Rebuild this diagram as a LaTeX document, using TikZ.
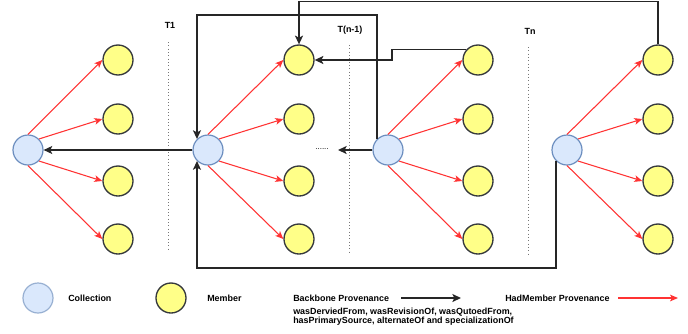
\documentclass[tikz,border=0pt]{standalone}
\usepackage{fontspec}
\setmainfont{Liberation Sans}
\usetikzlibrary{arrows.meta}
\definecolor{colfill}{HTML}{DAE8FC}
\definecolor{colstroke}{HTML}{6C8EBF}
\definecolor{memfill}{HTML}{FFFF88}
\definecolor{memstroke}{HTML}{36393D}
\definecolor{hmred}{HTML}{FF3333}
\definecolor{sepgray}{HTML}{777777}
\begin{document}
\begin{tikzpicture}[x=0.75pt,y=-0.75pt,
  coll/.style={circle, draw=colstroke, fill=colfill, line width=0.9pt, minimum size=22.5pt, inner sep=0pt},
  mem/.style={circle, draw=memstroke, fill=memfill, line width=1pt, minimum size=22.5pt, inner sep=0pt},
  hm/.style={draw=hmred, line width=0.8pt, -{Stealth[length=6pt,width=5pt,inset=1.5pt]}},
  bb/.style={draw=black!85, line width=1.1pt, -{Stealth[length=6.5pt,width=6pt,inset=1.5pt]}},
  sepline/.style={draw=sepgray, line width=0.5pt, dotted},
  lbl/.style={font=\fontsize{6.7}{7.5}\selectfont\bfseries, inner sep=0pt},
]
\useasboundingbox (0,0) rectangle (688,333);

% collections
\node[coll] (c1) at (28,150) {};
\node[coll] (c2) at (208,150) {};
\node[coll] (c3) at (388,150) {};
\node[coll] (c4) at (567,150) {};

% members
\foreach \g/\x in {1/118,2/299,3/478,4/658}{
  \node[mem] (m\g a) at (\x,60) {};
  \node[mem] (m\g b) at (\x,119) {};
  \node[mem] (m\g c) at (\x,181) {};
  \node[mem] (m\g d) at (\x,239) {};
}

% HadMember arrows
\foreach \g in {1,2,3,4}{
  \draw[hm] (c\g.north) -- (m\g a.west);
  \draw[hm] (c\g.45) -- (m\g b.west);
  \draw[hm] (c\g.-45) -- (m\g c.west);
  \draw[hm] (c\g.south) -- (m\g d.west);
}

% separators and labels
\draw[sepline] (168,42) -- (168,250);
\draw[sepline] (349,45) -- (349,253);
\draw[sepline] (528,47) -- (528,255);
\node[lbl] (t1) at (170,25) {T1};
\node[lbl] (tn1) at (350,30) {T(n-1)};
\node[lbl] (tn) at (530,31) {Tn};

% backbone arrows
\coordinate (top0) at (0,1.5);
\coordinate (top3) at (0,15);
\coordinate (bot) at (0,268);
\coordinate (j6) at (392,60);
\coordinate (dotend) at (338,150);
\node[font=\fontsize{6}{7}\selectfont, inner sep=0pt] (dots) at (322,149) {......};

\draw[bb] (c2) -- (c1);
\draw[bb] (c3) -- (dotend);
\draw[bb] (c3.135) |- (c2.135 |- top3) -- (c2.135);
\draw[bb] (c4.-135) |- (c2.-135 |- bot) -- (c2.-135);
\draw[bb] (m4a.north) |- (m2a.north |- top0) -- (m2a.north);
\draw[bb] (m3a.138) -| (j6) -- (m2a.east);

% legend
\node[coll, draw=colstroke!70] (lc) at (38,298) {};
\node[lbl, anchor=west] (lct) at (68,298) {Collection};
\node[mem] (lm) at (171,298) {};
\node[lbl, anchor=west] (lmt) at (207,298) {Member};
\node[lbl, anchor=west] (bbt) at (293,298) {Backbone Provenance};
\coordinate (bba) at (401,298);
\coordinate (bbb) at (461,298);
\draw[bb] (bba) -- (bbb);
\node[lbl, anchor=west] (hmt) at (505,298) {HadMember Provenance};
\coordinate (hma) at (618,298);
\coordinate (hmb) at (678,298);
\draw[hm] (hma) -- (hmb);
\node[lbl, anchor=north west, align=left, font=\fontsize{6.7}{6.9}\selectfont\bfseries] (bbd) at (293,308)
  {wasDerviedFrom, wasRevisionOf, wasQutoedFrom,\\hasPrimarySource, alternateOf and specializationOf};
\end{tikzpicture}
\end{document}
